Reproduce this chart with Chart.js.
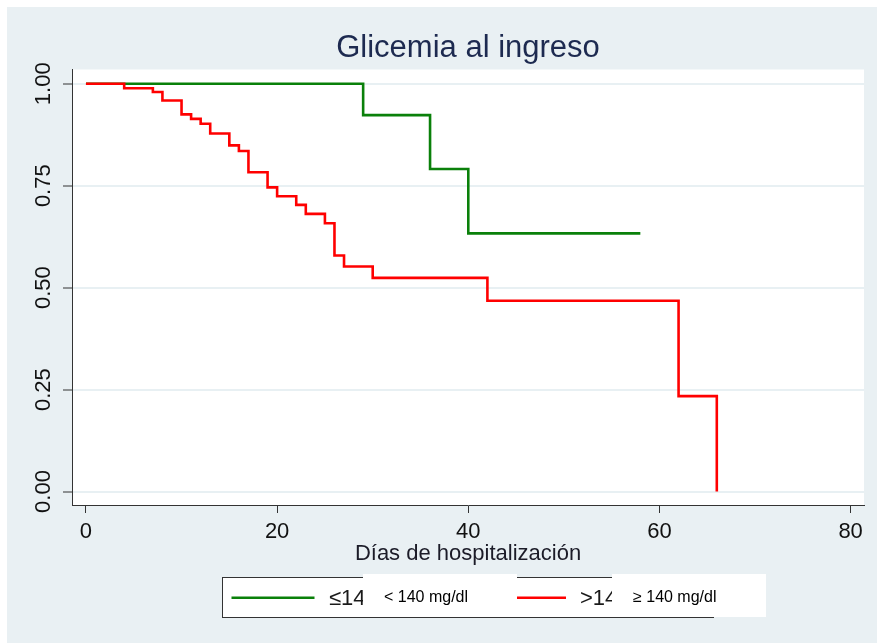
<!DOCTYPE html>
<html>
<head>
<meta charset="utf-8">
<style>
  html, body { margin: 0; padding: 0; background: #ffffff; }
  #wrap { width: 877px; height: 644px; position: relative; }
  canvas { display: block; }
</style>
<script src="https://cdn.jsdelivr.net/npm/chart.js@4.4.1/dist/chart.umd.min.js"></script>
</head>
<body>
<div id="wrap"><canvas id="c" width="877" height="644"></canvas></div>
<script>
// ---- data ----
const chartTitle = 'Glicemia al ingreso';
const xAxisTitle = 'Días de hospitalización';
const xTicks = [0, 20, 40, 60, 80];
const yTicks = [0, 0.25, 0.5, 0.75, 1];
const yTickLabels = ['0.00', '0.25', '0.50', '0.75', '1.00'];

const greenDays = [0, 29, 36, 40, 58];
const greenSurv = [1, 0.923, 0.791, 0.633, 0.633];

const redDays = [0, 4, 7, 8, 10, 11, 12, 13, 15, 16, 17, 19, 20, 22, 23, 25, 26, 27, 30, 42, 62, 66];
const redSurv = [1, 0.989, 0.980, 0.959, 0.925, 0.914, 0.902, 0.878, 0.849, 0.835, 0.783, 0.746, 0.724, 0.703, 0.681, 0.658, 0.579, 0.552, 0.524, 0.468, 0.234, 0];

const legendOriginal = ['≤140 mg/dl', '>140 mg/dl'];
const legendOverlay = ['< 140 mg/dl', '≥ 140 mg/dl'];

// ---- style ----
const FONT = '"Liberation Sans", Arial, sans-serif';
const GREEN = '#0a800a';
const RED = '#ff0000';
const BG = '#e9f0f3';

Chart.defaults.font.family = FONT;

const toXY = (xs, ys) => xs.map((x, i) => ({ x: x, y: ys[i] }));

const bgPlugin = {
  id: 'bgPlugin',
  beforeDraw(chart) {
    const ctx = chart.ctx, a = chart.chartArea;
    ctx.save();
    ctx.fillStyle = '#ffffff';
    ctx.fillRect(0, 0, chart.width, chart.height);
    ctx.fillStyle = BG;
    ctx.fillRect(7, 7, chart.width - 7, chart.height - 8);
    ctx.fillStyle = '#ffffff';
    ctx.fillRect(a.left, a.top, a.right - a.left, a.bottom - a.top);
    ctx.restore();
  }
};

const legendPlugin = {
  id: 'legendPlugin',
  afterDraw(chart) {
    const ctx = chart.ctx;
    ctx.save();
    // original legend box
    ctx.fillStyle = '#ffffff';
    ctx.fillRect(222.5, 577.5, 491, 40);
    ctx.strokeStyle = '#333333';
    ctx.lineWidth = 1;
    ctx.strokeRect(222.5, 577.5, 491, 40);
    // keys
    ctx.lineWidth = 2.6;
    ctx.strokeStyle = GREEN;
    ctx.beginPath(); ctx.moveTo(231.5, 597.7); ctx.lineTo(314.5, 597.7); ctx.stroke();
    ctx.strokeStyle = RED;
    ctx.beginPath(); ctx.moveTo(484, 597.7); ctx.lineTo(566, 597.7); ctx.stroke();
    // original labels
    ctx.font = '22px ' + FONT;
    ctx.fillStyle = '#1a1a1a';
    ctx.textBaseline = 'middle';
    ctx.textAlign = 'left';
    ctx.fillText(legendOriginal[0], 329, 598.5);
    ctx.fillText(legendOriginal[1], 580, 598.5);
    // white patches with new labels
    ctx.fillStyle = '#ffffff';
    ctx.fillRect(363, 574, 154, 43);
    ctx.fillRect(612, 574, 154, 43);
    ctx.font = '16px ' + FONT;
    ctx.fillStyle = '#000000';
    ctx.fillText(legendOverlay[0], 384, 597.5);
    ctx.fillText(legendOverlay[1], 633, 597.5);
    ctx.restore();
  }
};

new Chart(document.getElementById('c'), {
  type: 'line',
  data: {
    datasets: [
      {
        label: legendOverlay[1],
        data: toXY(redDays, redSurv),
        borderColor: RED,
        borderWidth: 2.6,
        pointRadius: 0,
        stepped: true,
        fill: false,
        order: 0
      },
      {
        label: legendOverlay[0],
        data: toXY(greenDays, greenSurv),
        borderColor: GREEN,
        borderWidth: 2.6,
        pointRadius: 0,
        stepped: true,
        fill: false,
        order: 1
      }
    ]
  },
  options: {
    responsive: false,
    animation: false,
    devicePixelRatio: 1,
    layout: { padding: { left: 0, right: 13, top: 0, bottom: 77.3 } },
    plugins: {
      legend: { display: false },
      tooltip: { enabled: false },
      title: {
        display: true,
        text: chartTitle,
        fullSize: false,
        color: '#1d2a50',
        font: { size: 31, weight: 'normal', family: FONT },
        padding: { top: 30, bottom: 2.3 }
      }
    },
    scales: {
      x: {
        type: 'linear',
        min: -1.46,
        max: 81.4,
        afterBuildTicks: s => { s.ticks = xTicks.map(v => ({ value: v })); },
        afterFit: s => { s.height = 61.7; },
        ticks: {
          autoSkip: false,
          maxRotation: 0,
          padding: 5.5,
          color: '#111111',
          font: { size: 22, family: FONT },
          callback: v => String(v)
        },
        grid: {
          drawOnChartArea: false,
          drawTicks: true,
          tickLength: 8,
          tickColor: '#333333',
          tickWidth: 1
        },
        border: { display: true, color: '#333333', width: 1 },
        title: {
          display: true,
          text: xAxisTitle,
          color: '#1c1c28',
          font: { size: 22, family: FONT },
          padding: { top: 0, bottom: 0 }
        }
      },
      y: {
        type: 'linear',
        min: -0.033,
        max: 1.035,
        afterBuildTicks: s => { s.ticks = yTicks.map(v => ({ value: v })); },
        afterFit: s => { s.width = 72; },
        ticks: {
          autoSkip: false,
          minRotation: 90,
          maxRotation: 90,
          crossAlign: 'center',
          padding: -2.5,
          color: '#111111',
          font: { size: 22, family: FONT },
          callback: (v, i) => yTickLabels[i]
        },
        grid: {
          color: '#e8f0f3',
          lineWidth: 2,
          drawTicks: true,
          tickLength: 9,
          tickColor: '#333333',
          tickWidth: 1
        },
        border: { display: true, color: '#333333', width: 1 }
      }
    }
  },
  plugins: [bgPlugin, legendPlugin]
});
</script>
</body>
</html>
